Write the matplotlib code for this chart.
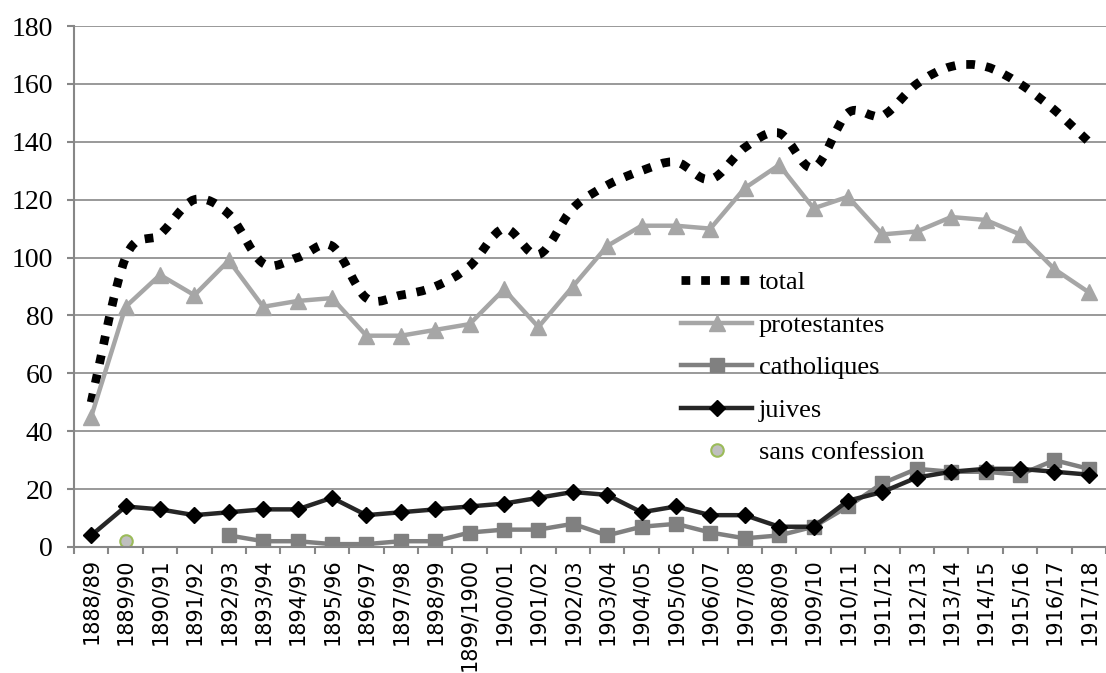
from matplotlib import pyplot as plt
from matplotlib.path import Path
from matplotlib.patches import PathPatch
from matplotlib.lines import Line2D
import numpy as np

# school years
years = ['1888/89', '1889/90', '1890/91', '1891/92', '1892/93', '1893/94', '1894/95',
         '1895/96', '1896/97', '1897/98', '1898/99', '1899/1900', '1900/01', '1901/02',
         '1902/03', '1903/04', '1904/05', '1905/06', '1906/07', '1907/08', '1908/09',
         '1909/10', '1910/11', '1911/12', '1912/13', '1913/14', '1914/15', '1915/16',
         '1916/17', '1917/18']

total = [50, 100, 108, 120, 115, 98, 100, 104, 86, 87, 90, 97, 110, 101, 117, 125,
         130, 133, 127, 138, 143, 131, 150, 149, 160, 166, 166, 160, 151, 140]
protestantes = [45, 83, 94, 87, 99, 83, 85, 86, 73, 73, 75, 77, 89, 76, 90, 104,
                111, 111, 110, 124, 132, 117, 121, 108, 109, 114, 113, 108, 96, 88]
catholiques = [None, None, None, None, 4, 2, 2, 1, 1, 2, 2, 5, 6, 6, 8, 4,
               7, 8, 5, 3, 4, 7, 14, 22, 27, 26, 26, 25, 30, 27]
juives = [4, 14, 13, 11, 12, 13, 13, 17, 11, 12, 13, 14, 15, 17, 19, 18,
          12, 14, 11, 11, 7, 7, 16, 19, 24, 26, 27, 27, 26, 25]
sans_confession = [None, 2] + [None] * 28

yticks = [0, 20, 40, 60, 80, 100, 120, 140, 160, 180]

serif = 'Liberation Serif'
grid_col = '#878787'


def smooth_path(xs, ys):
    # catmull-rom style bezier, like the smoothed line of a spreadsheet chart
    pts = np.column_stack([xs, ys]).astype(float)
    verts = [pts[0]]
    codes = [Path.MOVETO]
    n = len(pts)
    for i in range(n - 1):
        p0 = pts[max(i - 1, 0)]
        p1 = pts[i]
        p2 = pts[i + 1]
        p3 = pts[min(i + 2, n - 1)]
        c1 = p1 + (p2 - p0) / 6.0
        c2 = p2 - (p3 - p1) / 6.0
        verts += [c1, c2, p2]
        codes += [Path.CURVE4] * 3
    return Path(verts, codes)


def to_arr(vals):
    return np.array([np.nan if v is None else v for v in vals], dtype=float)


x = np.arange(len(years))

fig = plt.figure(figsize=(11.06, 6.73), dpi=100)
ax = fig.add_axes([74 / 1106, 126 / 673, 1 - 74 / 1106, 521 / 673])

ax.set_xlim(-0.5, -0.5 + (1106 - 74) / 34.69)
ax.set_ylim(0, 180)

ax.set_yticks(yticks)
ax.yaxis.grid(True, color=grid_col, linewidth=1.2)
ax.set_axisbelow(True)

# total, smoothed dotted line
dots = (0, (1, 1.25))
tp = PathPatch(smooth_path(x, total), facecolor='none', edgecolor='black',
               linewidth=6.3, linestyle=dots, capstyle='butt', joinstyle='miter')
ax.add_patch(tp)

ax.plot(x, to_arr(protestantes), color='#A6A6A6', lw=3.2, marker='^',
        markersize=11, markerfacecolor='#A6A6A6', markeredgecolor='#A6A6A6',
        solid_joinstyle='miter')
ax.plot(x, to_arr(catholiques), color='#808080', lw=3.2, marker='s',
        markersize=9.5, markerfacecolor='#808080', markeredgecolor='#808080',
        solid_joinstyle='miter')
ax.plot(x, to_arr(juives), color='#262626', lw=3.2, marker='D',
        markersize=8.5, markerfacecolor='black', markeredgecolor='black',
        solid_joinstyle='miter')
ax.plot(x, to_arr(sans_confession), linestyle='none', marker='o', markersize=9,
        markerfacecolor='#BFBFBF', markeredgecolor='#9BBB59', markeredgewidth=1.5)

for side in ['top', 'right']:
    ax.spines[side].set_visible(False)
for side in ['left', 'bottom']:
    ax.spines[side].set_color(grid_col)
    ax.spines[side].set_linewidth(1.5)

ax.tick_params(axis='y', direction='out', length=5, width=1.5, color=grid_col,
               pad=10)
for lab in ax.get_yticklabels():
    lab.set_fontfamily(serif)
    lab.set_fontsize(20)

ax.set_xticks(x)
ax.set_xticklabels(years, rotation=90, fontsize=15, family='DejaVu Sans',
                   va='top', ha='center')
ax.set_xticks(np.arange(len(years) + 1) - 0.5, minor=True)
ax.tick_params(axis='x', which='major', length=0, pad=8)
ax.tick_params(axis='x', which='minor', direction='out', length=5, width=1.5,
               color=grid_col)

handles = [
    Line2D([], [], color='black', lw=6.3, linestyle=dots, dash_capstyle='butt'),
    Line2D([], [], color='#A6A6A6', lw=3.2, marker='^', markersize=11),
    Line2D([], [], color='#808080', lw=3.2, marker='s', markersize=9.5),
    Line2D([], [], color='#262626', lw=3.2, marker='D', markersize=8.5,
           markerfacecolor='black', markeredgecolor='black'),
    Line2D([], [], linestyle='none', marker='o', markersize=9,
           markerfacecolor='#BFBFBF', markeredgecolor='#9BBB59', markeredgewidth=1.5),
]
labels = ['total', 'protestantes', 'catholiques', 'juives', 'sans confession']
fig.legend(handles, labels, loc='upper left',
           bbox_to_anchor=(681 / 1106, 1 - 271 / 673),
           frameon=False, prop={'family': serif, 'size': 19},
           handlelength=2.7, handletextpad=0.25, labelspacing=0.72,
           borderpad=0, borderaxespad=0)

plt.savefig('out.png', dpi=100)
